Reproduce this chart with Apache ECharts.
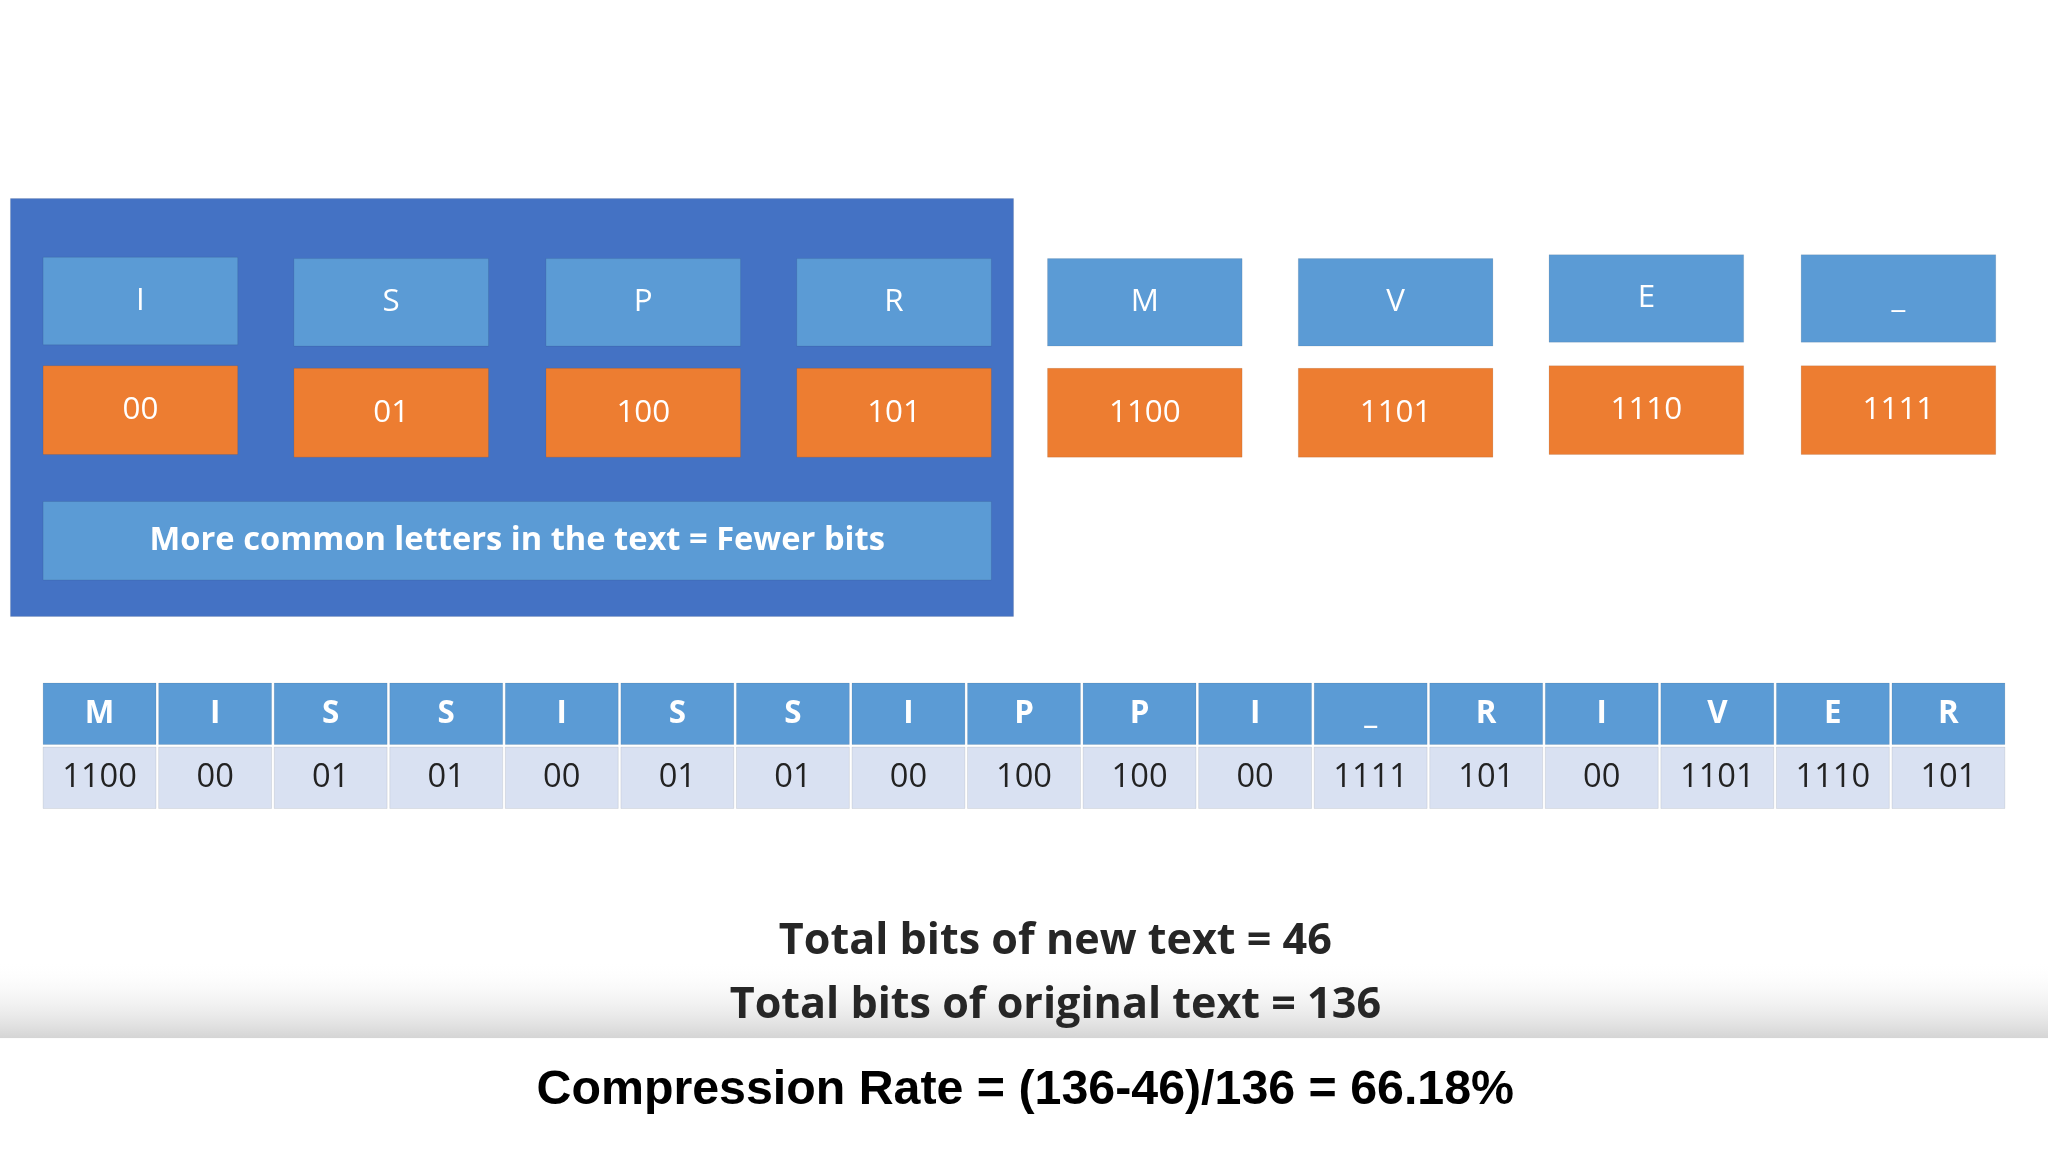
<!DOCTYPE html>
<html>
<head>
<meta charset="utf-8">
<script src="https://cdn.jsdelivr.net/npm/echarts@6/dist/echarts.min.js"></script>
<style>html,body{margin:0;padding:0;background:#fff}#main{width:2048px;height:1152px}</style>
</head>
<body>
<div id="main"></div>
<script>
// code table
const symbols = ['I', 'S', 'P', 'R', 'M', 'V', 'E', '_'];
const codes = ['00', '01', '100', '101', '1100', '1101', '1110', '1111'];
// encoded message
const message = ['M', 'I', 'S', 'S', 'I', 'S', 'S', 'I', 'P', 'P', 'I', '_', 'R', 'I', 'V', 'E', 'R'];
const caption = 'More common letters in the text = Fewer bits';
const summary = ['Total bits of new text = 46', 'Total bits of original text = 136'];
const rateText = 'Compression Rate = (136-46)/136 = 66.18%';

const S = 2048 / 1568;
const chart = echarts.init(document.getElementById('main'));
const g = [];
const font = '"Open Sans", "Noto Sans", sans-serif';

function box(x, y, w, h, fill, text, color, size, weight) {
  g.push({
    type: 'rect', shape: { x: x * S, y: y * S, width: w * S, height: h * S },
    style: { fill: fill, stroke: 'rgba(0,0,0,0.08)', lineWidth: 1 }
  });
  if (text) {
    g.push({
      type: 'text', x: (x + w / 2) * S, y: (y + h / 2) * S,
      style: { text: text, fill: color, font: (weight || 'normal') + ' ' + size * S + 'px ' + font, align: 'center', verticalAlign: 'middle' }
    });
  }
}

// background panel
box(8, 152, 768, 320, '#4472C4');

const colX = [33, 225, 418, 610, 802, 994, 1186, 1379];
const letterY = [197, 198, 198, 198, 198, 198, 195, 195];
const codeY = [280, 282, 282, 282, 282, 282, 280, 280];
symbols.forEach((s, i) => {
  box(colX[i], letterY[i], 149, 67, '#5B9BD5', s, '#fff', 24);
  box(colX[i], codeY[i], 149, 68, '#ED7D31', codes[i], '#fff', 24);
});
box(33, 384, 726, 60, '#5B9BD5', caption, '#fff', 25, 'bold');

// message table
const cw = (1537 - 33) / message.length;
message.forEach((m, i) => {
  const x = 33 + i * cw;
  box(x, 523, cw - 2, 47, '#5B9BD5', m, '#fff', 24, 'bold');
  box(x, 572, cw - 2, 47, '#D9E1F2', codes[symbols.indexOf(m)], '#222', 25);
});

// bottom gray gradient band
g.push({
  type: 'rect', shape: { x: 0, y: 735 * S, width: 2048, height: 60 * S },
  style: { fill: new echarts.graphic.LinearGradient(0, 0, 0, 1, [{ offset: 0, color: 'rgba(255,255,255,0)' }, { offset: 1, color: '#d4d4d4' }]) }
});
summary.forEach((t, i) => {
  g.push({
    type: 'text', x: 808 * S, y: (721 + i * 49) * S,
    style: { text: t, fill: '#262626', font: 'bold ' + 33 * S + 'px ' + font, align: 'center', verticalAlign: 'middle' }
  });
});
g.push({
  type: 'rect', shape: { x: 0, y: 795 * S, width: 2048, height: 1152 - 795 * S }, style: { fill: '#fff' }
});
g.push({
  type: 'text', x: 785 * S, y: 835 * S,
  style: { text: rateText, fill: '#000', font: 'bold ' + 37 * S + 'px "Liberation Sans", Arial, sans-serif', align: 'center', verticalAlign: 'middle' }
});

chart.setOption({ backgroundColor: '#fff', animation: false, graphic: g });
</script>
</body>
</html>
